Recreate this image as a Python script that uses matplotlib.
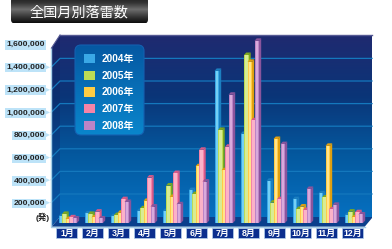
import numpy as np
import matplotlib
matplotlib.use("Agg")
import matplotlib.pyplot as plt
from matplotlib.colors import LinearSegmentedColormap
from matplotlib.patches import Polygon, Rectangle, FancyBboxPatch, Patch
from matplotlib.transforms import ScaledTranslation

title = "全国月別落雷数"
months = ["1月","2月","3月","4月","5月","6月","7月","8月","9月","10月","11月","12月"]
unit = "(発)"
yticks = [200000,400000,600000,800000,1000000,1200000,1400000,1600000]
s2004 = [60000,85000,60000,105000,105000,290000,1340000,785000,372000,210000,262000,70000]
s2005 = [80000,80000,70000,130000,330000,255000,820000,1480000,180000,123000,225000,100000]
s2006 = [35000,50000,90000,195000,230000,500000,465000,1420000,740000,145000,680000,50000]
s2007 = [50000,100000,210000,400000,440000,645000,672000,905000,210000,115000,120000,95000]
s2008 = [40000,40000,185000,145000,165000,365000,1130000,1605000,695000,300000,160000,75000]
series = [("2004年",s2004),("2005年",s2005),("2006年",s2006),("2007年",s2007),("2008年",s2008)]
front = ["#3aa8e6","#bcdc55","#ffcc44","#f584a8","#bc84c6"]
light = ["#74d0f5","#d8ec94","#ffe48c","#fbb2c8","#d8aadc"]
side  = ["#1c7fc0","#7fa91e","#e0a010","#d85a88","#8a559c"]

W, H = 392, 249
jp = ["Liberation Sans", "Noto Sans CJK JP"]
fig = plt.figure(figsize=(W/100, H/100), dpi=100, facecolor="white")

# background layer in pixel coordinates
bg = fig.add_axes([0,0,1,1]); bg.set_xlim(0,W); bg.set_ylim(H,0); bg.axis("off")
def grad(colors, ext, clip):
    cm = LinearSegmentedColormap.from_list("g", colors)
    im = bg.imshow(np.linspace(0,1,128)[:,None], cmap=cm, extent=ext, aspect="auto", zorder=1)
    im.set_clip_path(clip)
    return im
L, LB, T, R, B, FB = 51.5, 60, 35, 372, 226.7, 217
back = Polygon([(LB,T),(R,T),(R,FB),(LB,FB)], transform=bg.transData, fc="none", ec="none")
bg.add_patch(back)
grad(["#1f2a70","#0a3578","#04599f","#0670c0"], (LB,R,FB,T), back)
wall = Polygon([(L,T+13),(LB,T),(LB,FB),(L,B)], transform=bg.transData, fc="none", ec="none")
bg.add_patch(wall)
grad(["#1b2468","#0a2f70","#084a92","#0a55a5"], (L,LB,B,T), wall)
bg.add_patch(Polygon([(L,B),(LB,FB),(R,FB),(R,FB+1),(364.7,B)], fc="#0b3f8c", ec="none", zorder=2))
bg.plot([LB,R],[T,T], color="#565a94", lw=1, zorder=3)
bg.plot([L,L,364.7],[T+13,B,B], color="#a8cfe8", lw=1, zorder=3)
bg.plot([L,LB],[T+13,T], color="#565a94", lw=0.8, zorder=3)
for k in range(1,8):
    gy = 194 - (k-1)*22.6
    bg.plot([L,LB,R],[gy+8.5,gy,gy], color="#1478bd", lw=0.9, zorder=2)
    ly = 202.7 - (k-1)*22.57
    bg.add_patch(Polygon([(45,ly-2.5),(50,ly),(45,ly+2.5)], fc="#bde3f8", ec="none", zorder=2))

# legend panel
box = FancyBboxPatch((79,49),61,82, boxstyle="round,pad=4,rounding_size=6", fc="none", ec="#1460b0", lw=0.8, zorder=4)
bg.add_patch(box)
grad(["#0558a2","#0a86cc"], (75,144,135,45), box).set_zorder(3)

# title plate
plate = FancyBboxPatch((14,0),131,20.5, boxstyle="round,pad=3,rounding_size=4", fc="none", ec="none", zorder=4)
bg.add_patch(plate)
grad(["#1a1a1a","#333333","#6e6e6e","#3a3a3a","#0c0c0c"], (11,148,23.5,-3), plate)
bg.set_xlim(0,W); bg.set_ylim(H,0)
bg.text(78.5,12.3,title,color="white",ha="center",va="center",fontsize=10.2,family=["Noto Sans CJK JP"],zorder=5)
bg.text(49.5,217.7,unit,color="#222222",ha="right",va="center",fontsize=6,fontweight="bold",family=jp,zorder=5)

# month label plates
spacing, first = 26.0, 67.0
for i in range(len(months)):
    c = first + spacing*i
    bg.add_patch(Rectangle((c-10.5,228.2),21,9.6,fc="#0b2e8e",ec="#b5d2ee",lw=0.5,zorder=3))

# data layer: y in values, x in month index
PX = 22.7/200000
base_py = 223.0
ax = fig.add_axes([L/W, 1-B/H, (R-L)/W, (B-T)/H])
ax.patch.set_alpha(0)
ax.set_xlim((L-first)/spacing, (R-first)/spacing)
ax.set_ylim((base_py-B)/PX, (base_py-T)/PX)
for s in ax.spines.values(): s.set_visible(False)

bw, step, start = 4.5/spacing, 3.5/spacing, -8.5/spacing
dx, dy = 2.2/spacing, 2.5/PX
x0 = np.arange(len(months))
for j,(name,vals) in enumerate(series):
    xs = x0 + start + j*step
    z = 5 + j*3
    for x,v in zip(xs,vals):
        ax.add_patch(Polygon([(x+bw,0),(x+bw+dx,dy),(x+bw+dx,v+dy),(x+bw,v)], fc=side[j], ec="none", zorder=z))
        ax.add_patch(Polygon([(x,v),(x+bw,v),(x+bw+dx,v+dy),(x+dx,v+dy)], fc=side[j], ec="none", zorder=z))
    ax.bar(xs, vals, width=bw, align="edge", color=front[j], zorder=z+1, label=name)
    ax.bar(xs+bw*0.25, vals, width=bw*0.6, align="edge", color=light[j], zorder=z+2)

ax.set_yticks(yticks)
ax.set_yticklabels([f"{v:,}" for v in yticks], fontsize=6.1, fontweight="bold", color="#222222", family=jp,
                   bbox=dict(boxstyle="square,pad=0.15", fc="#bde3f8", ec="none"))
ax.tick_params(axis="y", length=0, pad=4.6)
shift = ScaledTranslation(0, -2.4/100, fig.dpi_scale_trans)
for lab in ax.get_yticklabels():
    lab.set_transform(lab.get_transform() + shift)
ax.set_xticks(x0)
ax.set_xticklabels(months, fontsize=6.4, fontweight="bold", color="white", family=jp)
ax.tick_params(axis="x", length=0, pad=1.6)

handles = [Patch(fc=front[j], ec="none", label=series[j][0]) for j in range(5)]
leg = ax.legend(handles=handles, loc="upper left", bbox_to_anchor=(84/W, 1-54/H), bbox_transform=fig.transFigure,
          frameon=False, borderpad=0, borderaxespad=0, labelspacing=0.66, handlelength=1.05, handleheight=1.05,
          handletextpad=0.75, prop=dict(family=jp, size=7.2, weight="bold"), labelcolor="white")
leg.set_zorder(30)

fig.savefig("out.png", dpi=100)
